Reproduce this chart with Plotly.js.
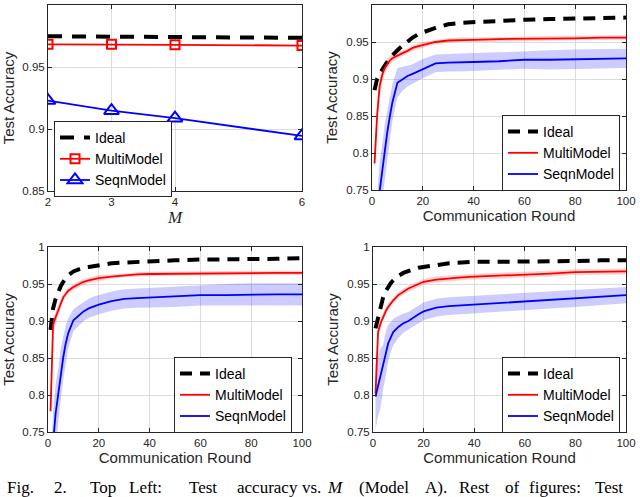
<!DOCTYPE html>
<html>
<head>
<meta charset="utf-8">
<script src="https://cdn.plot.ly/plotly-3.0.1.min.js"></script>
<style>body{margin:0;background:#fff}#myDiv{width:640px;height:497px}</style>
</head>
<body>
<div id="myDiv"></div>
<script>
// top left: accuracy vs M
var mVals = [2, 3, 4, 6];
var tlIdeal = [0.9748, 0.9745, 0.9740, 0.9735];
var tlMulti = [0.9683, 0.9683, 0.9679, 0.9673];
var tlSeqn = [0.9229, 0.9148, 0.9087, 0.8944];

// other panels: accuracy vs communication round
var rounds = [1, 2, 3, 4, 5, 6, 7, 8, 10, 12, 14, 16, 18, 20, 25, 30, 35, 40, 50, 60, 70, 80, 90, 100];

var trIdeal = [0.885, 0.900, 0.907, 0.913, 0.918, 0.923, 0.928, 0.932, 0.939, 0.945, 0.951, 0.956, 0.960, 0.963, 0.969, 0.974, 0.976, 0.977, 0.979, 0.980, 0.981, 0.982, 0.983, 0.983];
var trMulti = [0.786, 0.850, 0.890, 0.905, 0.915, 0.921, 0.925, 0.928, 0.932, 0.935, 0.938, 0.942, 0.944, 0.946, 0.950, 0.952, 0.953, 0.953, 0.954, 0.954, 0.955, 0.955, 0.956, 0.956];
var trMultiSd = [0.012, 0.015, 0.012, 0.010, 0.008, 0.007, 0.006, 0.005, 0.005, 0.004, 0.004, 0.004, 0.004, 0.004, 0.003, 0.003, 0.003, 0.003, 0.003, 0.003, 0.003, 0.003, 0.003, 0.003];
var trSeqn = [0.620, 0.700, 0.748, 0.775, 0.804, 0.828, 0.849, 0.868, 0.895, 0.900, 0.904, 0.907, 0.910, 0.914, 0.921, 0.922, 0.922, 0.923, 0.924, 0.926, 0.926, 0.927, 0.927, 0.928];
var trSeqnSd = [0.040, 0.040, 0.040, 0.035, 0.035, 0.030, 0.030, 0.025, 0.020, 0.016, 0.014, 0.013, 0.013, 0.013, 0.012, 0.012, 0.012, 0.012, 0.012, 0.012, 0.013, 0.013, 0.013, 0.013];

var blIdeal = [0.888, 0.917, 0.930, 0.940, 0.947, 0.953, 0.958, 0.962, 0.967, 0.970, 0.972, 0.973, 0.974, 0.975, 0.978, 0.979, 0.980, 0.981, 0.982, 0.983, 0.983, 0.984, 0.984, 0.985];
var blMulti = [0.778, 0.895, 0.905, 0.913, 0.923, 0.932, 0.937, 0.941, 0.946, 0.950, 0.953, 0.955, 0.957, 0.958, 0.960, 0.962, 0.963, 0.9635, 0.964, 0.964, 0.965, 0.965, 0.965, 0.965];
var blMultiSd = [0.010, 0.010, 0.008, 0.007, 0.006, 0.005, 0.005, 0.004, 0.004, 0.004, 0.004, 0.004, 0.004, 0.004, 0.003, 0.003, 0.003, 0.003, 0.003, 0.003, 0.003, 0.003, 0.003, 0.003];
var blSeqn = [0.660, 0.735, 0.775, 0.800, 0.828, 0.851, 0.870, 0.884, 0.901, 0.907, 0.913, 0.917, 0.920, 0.922, 0.927, 0.930, 0.931, 0.932, 0.933, 0.935, 0.935, 0.936, 0.936, 0.936];
var blSeqnSd = [0.040, 0.040, 0.040, 0.035, 0.035, 0.030, 0.025, 0.020, 0.015, 0.014, 0.013, 0.013, 0.013, 0.013, 0.013, 0.013, 0.013, 0.013, 0.014, 0.014, 0.015, 0.015, 0.015, 0.015];

var brIdeal = [0.890, 0.905, 0.922, 0.932, 0.940, 0.946, 0.951, 0.955, 0.961, 0.965, 0.968, 0.970, 0.972, 0.973, 0.976, 0.978, 0.979, 0.980, 0.980, 0.980, 0.981, 0.981, 0.982, 0.982];
var brMulti = [0.802, 0.885, 0.897, 0.906, 0.913, 0.919, 0.924, 0.928, 0.935, 0.940, 0.944, 0.947, 0.950, 0.953, 0.956, 0.958, 0.959, 0.960, 0.961, 0.963, 0.964, 0.966, 0.967, 0.967];
var brMultiSd = [0.010, 0.008, 0.006, 0.005, 0.005, 0.005, 0.004, 0.004, 0.004, 0.004, 0.004, 0.004, 0.004, 0.004, 0.004, 0.004, 0.004, 0.004, 0.004, 0.004, 0.004, 0.004, 0.004, 0.004];
var brSeqn = [0.798, 0.812, 0.823, 0.838, 0.855, 0.870, 0.878, 0.885, 0.892, 0.897, 0.900, 0.905, 0.909, 0.913, 0.918, 0.920, 0.921, 0.922, 0.925, 0.927, 0.929, 0.931, 0.933, 0.935];
var brSeqnSd = [0.045, 0.040, 0.040, 0.030, 0.030, 0.025, 0.020, 0.018, 0.015, 0.013, 0.012, 0.012, 0.012, 0.012, 0.012, 0.012, 0.012, 0.012, 0.012, 0.012, 0.012, 0.012, 0.012, 0.011];

var legendNames = ['Ideal', 'MultiModel', 'SeqnModel'];
var yTicks = [0.75, 0.8, 0.85, 0.9, 0.95, 1];
var yTickText = ['0.75', '0.8', '0.85', '0.9', '0.95', '1'];
var xTicksRound = [0, 20, 40, 60, 80, 100];
var captionWords = ['Fig.', '2.', 'Top', 'Left:', 'Test', 'accuracy', 'vs.', '<i>M</i>', '(Model', 'A).', 'Rest', 'of', 'figures:', 'Test'];
var captionX = [5, 52, 88, 127, 187, 235, 300, 325, 357, 423, 457, 503, 527, 593];

function band(x, mean, sd, color, xa, ya) {
  var up = [], lo = [];
  for (var i = 0; i < x.length; i++) {
    up.push(mean[i] + sd[i]);
    lo.push(mean[i] - sd[i]);
  }
  return {
    x: x.concat(x.slice().reverse()),
    y: up.concat(lo.reverse()),
    xaxis: xa, yaxis: ya, fill: 'toself', fillcolor: color,
    line: {width: 0}, mode: 'lines', showlegend: false, hoverinfo: 'skip'
  };
}

function curvePanel(xa, ya, leg, ideal, multi, multiSd, seqn, seqnSd) {
  return [
    band(rounds, multi, multiSd, 'rgba(255,0,0,0.18)', xa, ya),
    band(rounds, seqn, seqnSd, 'rgba(0,0,255,0.2)', xa, ya),
    {x: rounds, y: ideal, xaxis: xa, yaxis: ya, legend: leg, name: legendNames[0], mode: 'lines',
     line: {color: '#000', width: 4, dash: '12px,8px'}},
    {x: rounds, y: multi, xaxis: xa, yaxis: ya, legend: leg, name: legendNames[1], mode: 'lines',
     line: {color: '#ff0000', width: 1.8}},
    {x: rounds, y: seqn, xaxis: xa, yaxis: ya, legend: leg, name: legendNames[2], mode: 'lines',
     line: {color: '#0000ff', width: 1.8}}
  ];
}

var data = [
  {x: mVals, y: tlIdeal, name: legendNames[0], mode: 'lines', line: {color: '#000', width: 4, dash: '14px,10px'}},
  {x: mVals, y: tlMulti, name: legendNames[1], mode: 'lines+markers', line: {color: '#ff0000', width: 1.8},
   marker: {symbol: 'square-open', size: 9, color: '#ff0000', line: {width: 2}}},
  {x: mVals, y: tlSeqn, name: legendNames[2], mode: 'lines+markers', line: {color: '#0000ff', width: 1.8},
   marker: {symbol: 'triangle-up-open', size: 13, color: '#0000ff', line: {width: 2}}}
]
  .concat(curvePanel('x2', 'y2', 'legend2', trIdeal, trMulti, trMultiSd, trSeqn, trSeqnSd))
  .concat(curvePanel('x3', 'y3', 'legend3', blIdeal, blMulti, blMultiSd, blSeqn, blSeqnSd))
  .concat(curvePanel('x4', 'y4', 'legend4', brIdeal, brMulti, brMultiSd, brSeqn, brSeqnSd));

var font = 'Liberation Sans, Arial, sans-serif';
function axis(extra) {
  var a = {
    showline: true, mirror: 'ticks', linecolor: '#262626', linewidth: 1,
    ticks: 'inside', ticklen: 4, tickcolor: '#262626',
    showgrid: true, gridcolor: '#dcdcdc', gridwidth: 1, zeroline: false,
    tickfont: {family: font, size: 11.5, color: '#262626'}, automargin: false
  };
  for (var k in extra) a[k] = extra[k];
  return a;
}
function yax(domain, lo, anchor) {
  return axis({domain: domain, range: [lo, 1], tickvals: yTicks, ticktext: yTickText, anchor: anchor,
    title: {text: 'Test Accuracy', font: {family: font, size: 15, color: '#262626'}, standoff: 5}});
}
function xRound(domain, anchor) {
  return axis({domain: domain, range: [0, 100], tickvals: xTicksRound, anchor: anchor,
    title: {text: 'Communication Round', font: {family: font, size: 15, color: '#262626'}, standoff: 2}});
}
function legendBox(x, y) {
  return {x: x, y: y, xanchor: 'left', yanchor: 'top', bgcolor: '#fff', bordercolor: '#262626',
    borderwidth: 1, font: {family: font, size: 14, color: '#000'}, tracegroupgap: 0};
}

var layout = {
  width: 640, height: 497,
  margin: {l: 0, r: 0, t: 0, b: 0},
  paper_bgcolor: '#fff', plot_bgcolor: '#fff',
  showlegend: true,
  xaxis: axis({domain: [48/640, 302/640], range: [2, 6], tickvals: mVals, anchor: 'y',
    title: {text: '<i>M</i>', font: {family: 'Liberation Serif, serif', size: 17, color: '#262626'}, standoff: 2}}),
  yaxis: axis({domain: [1 - 191/497, 1 - 5/497], range: [0.85, 1], anchor: 'x',
    tickvals: [0.85, 0.9, 0.95, 1], ticktext: ['0.85', '0.9', '0.95', '1'],
    title: {text: 'Test Accuracy', font: {family: font, size: 15, color: '#262626'}, standoff: 5}}),
  xaxis2: xRound([372/640, 626/640], 'y2'),
  yaxis2: yax([1 - 190/497, 1 - 5/497], 0.75, 'x2'),
  xaxis3: xRound([48/640, 302/640], 'y3'),
  yaxis3: yax([1 - 432/497, 1 - 247/497], 0.75, 'x3'),
  xaxis4: xRound([373/640, 626/640], 'y4'),
  yaxis4: yax([1 - 432/497, 1 - 247/497], 0.75, 'x4'),
  legend: legendBox(54/640, 1 - 121/497),
  legend2: legendBox(502/640, 1 - 115/497),
  legend3: legendBox(174/640, 1 - 357/497),
  legend4: legendBox(502/640, 1 - 357/497),
  annotations: captionWords.map(function (w, i) {
    return {text: w, x: captionX[i] / 640, y: 1 - 487/497, xref: 'paper', yref: 'paper',
      xanchor: 'left', yanchor: 'middle', showarrow: false,
      font: {family: 'Liberation Serif, Times New Roman, serif', size: 17, color: '#000'}};
  })
};

Plotly.newPlot('myDiv', data, layout, {staticPlot: true});
</script>
</body>
</html>
